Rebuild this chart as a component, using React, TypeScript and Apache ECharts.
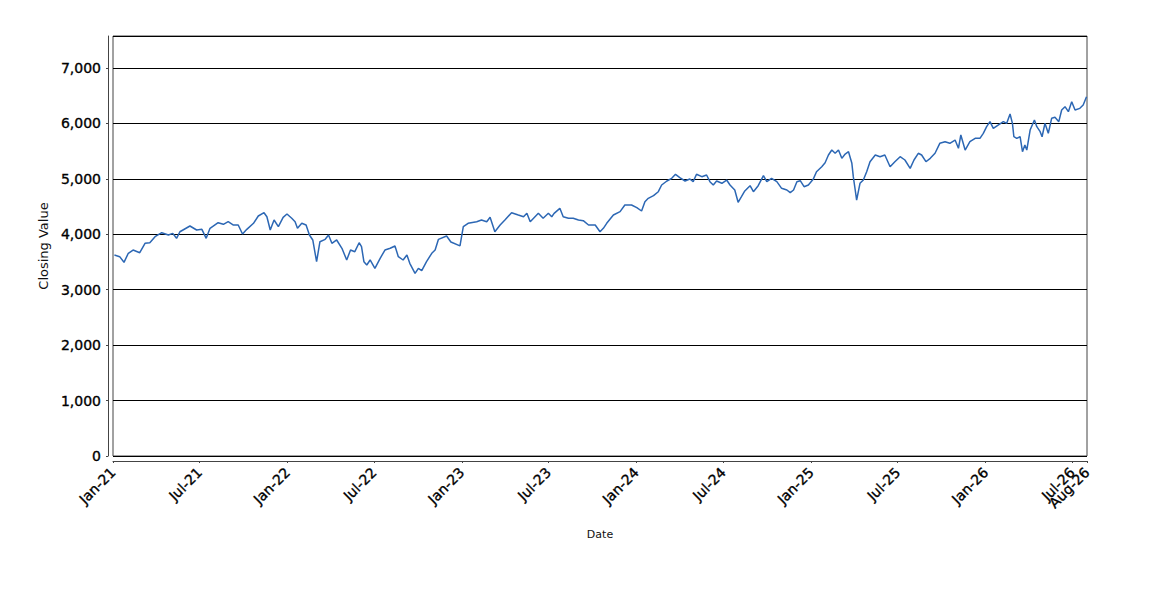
import React, { useEffect, useRef } from "react";
import * as echarts from "echarts";

// Closing values
const closeDates: string[] = [
  "2021-01-04","2021-01-15","2021-01-24","2021-02-02","2021-02-12","2021-02-26","2021-03-09","2021-03-19","2021-03-30","2021-04-13",
  "2021-04-27","2021-05-06","2021-05-14","2021-05-21","2021-06-11","2021-06-25","2021-07-06","2021-07-15","2021-07-23","2021-08-09",
  "2021-08-20","2021-08-30","2021-09-10","2021-09-20","2021-09-29","2021-10-08","2021-10-22","2021-11-01","2021-11-13","2021-11-19",
  "2021-11-26","2021-12-04","2021-12-13","2021-12-23","2021-12-31","2022-01-10","2022-01-17","2022-01-22","2022-01-31","2022-02-09",
  "2022-02-16","2022-02-23","2022-03-03","2022-03-10","2022-03-21","2022-03-28","2022-04-04","2022-04-14","2022-04-25","2022-05-05",
  "2022-05-13","2022-05-22","2022-05-31","2022-06-05","2022-06-10","2022-06-16","2022-06-23","2022-07-03","2022-07-14","2022-07-24",
  "2022-08-04","2022-08-14","2022-08-21","2022-08-31","2022-09-08","2022-09-14","2022-09-25","2022-10-02","2022-10-09","2022-10-19",
  "2022-10-30","2022-11-06","2022-11-13","2022-11-30","2022-12-09","2022-12-28","2023-01-04","2023-01-14","2023-02-01","2023-02-11",
  "2023-02-22","2023-03-01","2023-03-11","2023-03-22","2023-04-01","2023-04-15","2023-04-29","2023-05-10","2023-05-17","2023-05-24",
  "2023-06-10","2023-06-20","2023-07-01","2023-07-08","2023-07-13","2023-07-25","2023-08-01","2023-08-12","2023-08-22","2023-09-02",
  "2023-09-12","2023-09-23","2023-10-07","2023-10-17","2023-10-24","2023-10-31","2023-11-14","2023-11-28","2023-12-08","2023-12-22",
  "2024-01-02","2024-01-12","2024-01-19","2024-01-26","2024-02-06","2024-02-16","2024-02-23","2024-03-05","2024-03-15","2024-03-23",
  "2024-04-01","2024-04-12","2024-04-22","2024-04-29","2024-05-06","2024-05-17","2024-05-27","2024-06-03","2024-06-10","2024-06-17",
  "2024-06-28","2024-07-08","2024-07-15","2024-07-25","2024-08-01","2024-08-08","2024-08-15","2024-08-26","2024-09-02","2024-09-12",
  "2024-09-23","2024-09-30","2024-10-10","2024-10-21","2024-10-31","2024-11-11","2024-11-18","2024-11-25","2024-12-02","2024-12-09",
  "2024-12-17","2024-12-26","2025-01-05","2025-01-12","2025-01-23","2025-01-30","2025-02-06","2025-02-13","2025-02-20","2025-02-27",
  "2025-03-06","2025-03-13","2025-03-20","2025-03-27","2025-03-30","2025-04-03","2025-04-06","2025-04-13","2025-04-20","2025-04-27",
  "2025-05-04","2025-05-15","2025-05-25","2025-06-04","2025-06-15","2025-06-25","2025-07-06","2025-07-16","2025-07-27","2025-08-04",
  "2025-08-13","2025-08-20","2025-08-29","2025-09-07","2025-09-17","2025-09-27","2025-10-08","2025-10-18","2025-10-29","2025-11-05",
  "2025-11-10","2025-11-19","2025-11-29","2025-12-10","2025-12-20","2025-12-27","2026-01-03","2026-01-10","2026-01-17","2026-01-27",
  "2026-02-07","2026-02-14","2026-02-21","2026-02-26","2026-03-01","2026-03-07","2026-03-14","2026-03-19","2026-03-24","2026-03-28",
  "2026-04-04","2026-04-13","2026-04-18","2026-04-25","2026-04-29","2026-05-05","2026-05-12","2026-05-19","2026-05-26","2026-06-03",
  "2026-06-09","2026-06-16","2026-06-23","2026-06-30","2026-07-07","2026-07-17","2026-07-24","2026-07-31",
];

const closeValues: number[] = [
  3626, 3596, 3494, 3657, 3716, 3667, 3837, 3848, 3956, 4028,
  3987, 4017, 3927, 4046, 4149, 4077, 4089, 3927, 4107, 4209,
  4180, 4227, 4167, 4167, 4005, 4089, 4198, 4330, 4389, 4317,
  4077, 4257, 4137, 4306, 4366, 4288, 4227, 4107, 4198, 4167,
  3987, 3897, 3505, 3866, 3909, 3987, 3837, 3897, 3747, 3536,
  3716, 3686, 3848, 3776, 3505, 3446, 3536, 3386, 3566, 3716,
  3747, 3788, 3596, 3536, 3626, 3476, 3296, 3386, 3343, 3505,
  3657, 3716, 3909, 3969, 3860, 3790, 4137, 4198, 4227, 4257,
  4227, 4306, 4046, 4167, 4257, 4389, 4348, 4317, 4378, 4227,
  4378, 4288, 4378, 4317, 4378, 4468, 4317, 4288, 4288, 4257,
  4245, 4167, 4167, 4046, 4107, 4198, 4348, 4408, 4528, 4528,
  4480, 4420, 4588, 4649, 4696, 4768, 4889, 4961, 5010, 5082,
  5021, 4961, 4997, 4949, 5082, 5039, 5069, 4949, 4889, 4961,
  4920, 4979, 4889, 4799, 4577, 4678, 4781, 4877, 4768, 4877,
  5057, 4949, 5010, 4949, 4829, 4799, 4750, 4799, 4949, 4967,
  4858, 4889, 4991, 5129, 5219, 5291, 5430, 5520, 5461, 5520,
  5370, 5448, 5490, 5280, 5039, 4799, 4618, 4920, 4979, 5129,
  5309, 5430, 5400, 5430, 5219, 5309, 5400, 5340, 5190, 5340,
  5461, 5430, 5309, 5370, 5461, 5641, 5670, 5641, 5700, 5551,
  5791, 5520, 5670, 5731, 5731, 5821, 5941, 6031, 5911, 5971,
  6031, 6001, 6170, 6001, 5760, 5731, 5760, 5490, 5610, 5520,
  5881, 6061, 5941, 5851, 5760, 6001, 5821, 6092, 6110, 6031,
  6242, 6302, 6212, 6392, 6242, 6272, 6332, 6482,
];

// Axis range and ticks
const xStart = "2021-01-01";
const xEnd = "2026-08-01";
const xTickDates: string[] = [
  "2021-01-01","2021-07-01","2022-01-01","2022-07-01","2023-01-01","2023-07-01",
  "2024-01-01","2024-07-01","2025-01-01","2025-07-01","2026-01-01","2026-07-01",
];
const xTickLabels: string[] = [
  "Jan-21","Jul-21","Jan-22","Jul-22","Jan-23","Jul-23",
  "Jan-24","Jul-24","Jan-25","Jul-25","Jan-26","Jul-26",
];
const xEndLabel = "Aug-26";
const yMin = 0;
const yMax = 7577;
const yInterval = 1000;

const toTime = (s: string) => {
  const [y, m, d] = s.split("-").map(Number);
  return Date.UTC(y, m - 1, d);
};

export default function App() {
  const ref = useRef<HTMLDivElement>(null);

  useEffect(() => {
    if (!ref.current) return;
    const chart = echarts.init(ref.current, null, { renderer: "svg" });
    const tickTimes = xTickDates.map(toTime);
    const endTime = toTime(xEnd);
    const font = "DejaVu Sans";
    const tickText = {
      fontFamily: font,
      fontSize: 14,
      color: "#000",
      textBorderColor: "#000",
      textBorderWidth: 0.35,
    };
    const xBase = {
      type: "value",
      min: toTime(xStart),
      max: endTime,
      offset: 5,
      position: "bottom",
      splitLine: { show: false },
    };
    chart.setOption({
      animation: false,
      backgroundColor: "#ffffff",
      grid: {
        left: 113,
        top: 36,
        width: 974,
        height: 420,
        show: true,
        borderColor: "#444444",
        borderWidth: 1,
        backgroundColor: "#ffffff",
      },
      xAxis: [
        {
          ...xBase,
          name: "Date",
          nameLocation: "middle",
          nameGap: 68,
          nameTextStyle: { fontFamily: font, fontSize: 11, color: "#111" },
          axisLine: { show: true, onZero: false, lineStyle: { color: "#444444", width: 1 } },
          axisTick: {
            show: true,
            length: 2,
            customValues: tickTimes,
            lineStyle: { color: "#444444" },
          },
          axisLabel: {
            ...tickText,
            customValues: tickTimes,
            rotate: 45,
            margin: 9,
            hideOverlap: false,
            showMinLabel: true,
            showMaxLabel: true,
            formatter: (v: number) => {
              const i = tickTimes.indexOf(v);
              return i >= 0 ? xTickLabels[i] : "";
            },
          },
        },
        {
          ...xBase,
          axisLine: { show: false, onZero: false },
          axisTick: {
            show: true,
            length: 2,
            customValues: [endTime],
            lineStyle: { color: "#444444" },
          },
          axisLabel: {
            ...tickText,
            customValues: [endTime],
            rotate: 45,
            margin: 9,
            showMinLabel: true,
            showMaxLabel: true,
            formatter: () => xEndLabel,
          },
        },
      ],
      yAxis: {
        type: "value",
        min: yMin,
        max: yMax,
        interval: yInterval,
        offset: 5,
        name: "Closing Value",
        nameLocation: "middle",
        nameGap: 55,
        nameTextStyle: { fontFamily: font, fontSize: 13, color: "#111" },
        axisLine: { show: true, lineStyle: { color: "#444444", width: 1 } },
        axisTick: { show: true, length: 2, lineStyle: { color: "#444444" } },
        axisLabel: {
          ...tickText,
          margin: 7,
          showMaxLabel: false,
          formatter: (v: number) =>
            v % yInterval === 0 ? v.toLocaleString("en-US") : "",
        },
        splitLine: { show: true, lineStyle: { color: "#000000", width: 1 } },
      },
      series: [
        {
          type: "line",
          xAxisIndex: 0,
          data: closeDates.map((d, i) => [toTime(d), closeValues[i]]),
          showSymbol: false,
          symbol: "none",
          lineStyle: { color: "#2c67b4", width: 1.5 },
          itemStyle: { color: "#2c67b4" },
        },
      ],
    });
    return () => chart.dispose();
  }, []);

  return (
    <div
      ref={ref}
      style={{ position: "absolute", left: 0, top: 0, width: 1150, height: 600 }}
    />
  );
}
